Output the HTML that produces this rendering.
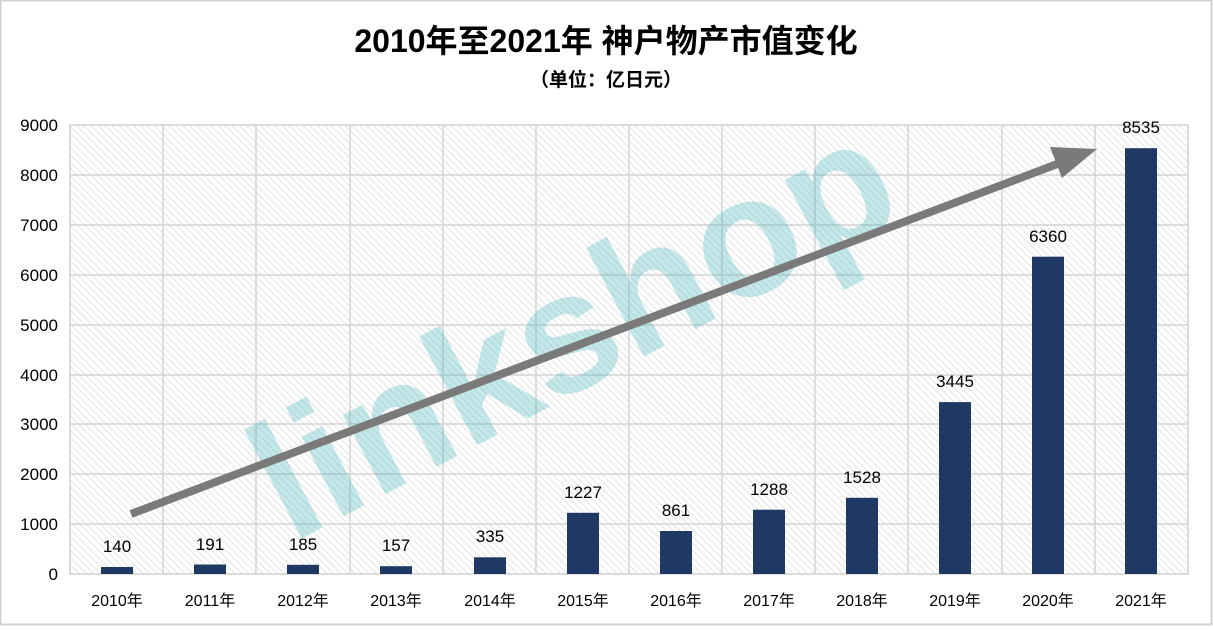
<!DOCTYPE html>
<html><head><meta charset="utf-8"><style>
body{margin:0;background:#fff}
svg text{font-family:"Liberation Sans","Noto Sans CJK SC",sans-serif}
</style></head><body>
<svg width="1213" height="626" xmlns="http://www.w3.org/2000/svg">
<defs>
<pattern id="h" width="5" height="5" patternUnits="userSpaceOnUse" patternTransform="rotate(-45)">
<rect width="5" height="5" fill="#fff"/><line x1="0" y1="0" x2="0" y2="5" stroke="#dcdcdc" stroke-width="1.6"/>
</pattern>
</defs>
<rect x="0.5" y="0.5" width="1211" height="624" fill="#fff" stroke="#d0d0d0" stroke-width="2"/>
<text x="606" y="52" font-size="32" font-weight="bold" text-anchor="middle" fill="#000">2010年至2021年 神户物产市值变化</text>
<text x="606" y="86" font-size="19" font-weight="bold" text-anchor="middle" fill="#000">（单位：亿日元）</text>
<rect x="70" y="125" width="1118" height="449" fill="url(#h)" stroke="#d0d0d0" stroke-width="1.5"/>
<g stroke="#d4d4d4" stroke-width="1.5">
<line x1="70" x2="1188" y1="175" y2="175"/><line x1="70" x2="1188" y1="225" y2="225"/>
<line x1="70" x2="1188" y1="275" y2="275"/><line x1="70" x2="1188" y1="325" y2="325"/>
<line x1="70" x2="1188" y1="375" y2="375"/><line x1="70" x2="1188" y1="424" y2="424"/>
<line x1="70" x2="1188" y1="474" y2="474"/><line x1="70" x2="1188" y1="524" y2="524"/>
<line x1="163" x2="163" y1="125" y2="574"/><line x1="256" x2="256" y1="125" y2="574"/>
<line x1="350" x2="350" y1="125" y2="574"/><line x1="443" x2="443" y1="125" y2="574"/>
<line x1="536" x2="536" y1="125" y2="574"/><line x1="629" x2="629" y1="125" y2="574"/>
<line x1="722" x2="722" y1="125" y2="574"/><line x1="815" x2="815" y1="125" y2="574"/>
<line x1="908" x2="908" y1="125" y2="574"/><line x1="1002" x2="1002" y1="125" y2="574"/>
<line x1="1095" x2="1095" y1="125" y2="574"/>
</g>
<g font-size="17" text-anchor="end" fill="#000">
<text x="58" y="131">9000</text><text x="58" y="181">8000</text><text x="58" y="231">7000</text>
<text x="58" y="281">6000</text><text x="58" y="331">5000</text><text x="58" y="381">4000</text>
<text x="58" y="430">3000</text><text x="58" y="480">2000</text><text x="58" y="530">1000</text>
<text x="58" y="580">0</text>
</g>
<g opacity="0.3">
<text x="600" y="380" font-size="170" font-weight="bold" fill="#3fb3b8" transform="rotate(-28 600 380)" text-anchor="middle">linkshop</text>
</g>
<g fill="#1f3864">
<rect x="101" y="567" width="32" height="7"/>
<rect x="194" y="564.5" width="32" height="9.5"/>
<rect x="287" y="564.8" width="32" height="9.2"/>
<rect x="380" y="566.2" width="32" height="7.8"/>
<rect x="474" y="557.3" width="32" height="16.7"/>
<rect x="567" y="512.8" width="32" height="61.2"/>
<rect x="660" y="531" width="32" height="43"/>
<rect x="753" y="509.7" width="32" height="64.3"/>
<rect x="846" y="497.8" width="32" height="76.2"/>
<rect x="939" y="402.1" width="32" height="171.9"/>
<rect x="1032" y="256.7" width="32" height="317.3"/>
<rect x="1125" y="148.2" width="32" height="425.8"/>
</g>
<g font-size="17" text-anchor="middle" fill="#000">
<text x="117" y="552">140</text><text x="210" y="550">191</text><text x="303" y="550">185</text>
<text x="396" y="551">157</text><text x="490" y="542">335</text><text x="583" y="498">1227</text>
<text x="676" y="516">861</text><text x="769" y="495">1288</text><text x="862" y="483">1528</text>
<text x="955" y="387">3445</text><text x="1048" y="242">6360</text><text x="1141" y="133">8535</text>
</g>
<g font-size="16" text-anchor="middle" fill="#000">
<text x="117" y="606">2010年</text><text x="210" y="606">2011年</text><text x="303" y="606">2012年</text>
<text x="396" y="606">2013年</text><text x="490" y="606">2014年</text><text x="583" y="606">2015年</text>
<text x="676" y="606">2016年</text><text x="769" y="606">2017年</text><text x="862" y="606">2018年</text>
<text x="955" y="606">2019年</text><text x="1048" y="606">2020年</text><text x="1141" y="606">2021年</text>
</g>
<line x1="131" y1="514" x2="1060" y2="163" stroke="#7a7a7a" stroke-width="8"/>
<polygon points="1097,149 1050,147 1062,178" fill="#7a7a7a"/>
</svg>
</body></html>
